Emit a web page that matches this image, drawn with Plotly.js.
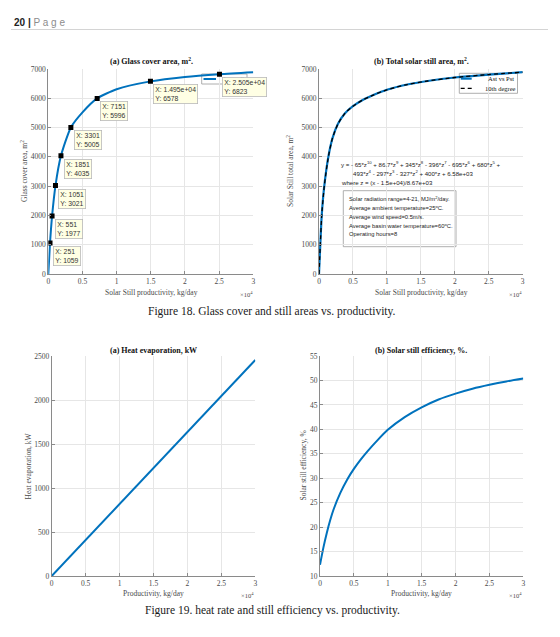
<!DOCTYPE html>
<html>
<head>
<meta charset="utf-8">
<script src="https://cdn.plot.ly/plotly-3.0.1.min.js"></script>
<style>
  html, body { margin: 0; padding: 0; background: #fff; }
  #fig { width: 560px; height: 637px; }
</style>
</head>
<body>
<div id="fig"></div>
<script>
// ---- data (productivity in kg/day) ----
// Glass cover area, m2
const glassX = [0, 251, 551, 1051, 1851, 3301, 5000, 7151, 10000, 14950, 20000, 25050, 30000];
const glassY = [0, 1059, 1977, 3021, 4035, 5005, 5520, 5996, 6310, 6578, 6730, 6823, 6890];
// marked data tips on the glass cover curve
const tipX = [251, 551, 1051, 1851, 3301, 7151, 14950, 25050];
const tipY = [1059, 1977, 3021, 4035, 5005, 5996, 6578, 6823];
// Total solar still area, m2
const stillX = [0, 100, 200, 400, 800, 1400, 2000, 2800, 3800, 5000, 6500, 8000, 10000, 13000, 16000, 20000, 25000, 30000];
const stillY = [0, 540, 1040, 2000, 3050, 4030, 4650, 5130, 5480, 5730, 5950, 6110, 6290, 6470, 6590, 6710, 6810, 6890];
// Heat evaporation, kW
const heatX = [0, 5000, 10000, 15000, 20000, 25000, 30000];
const heatY = [0, 410, 815, 1225, 1640, 2045, 2454];
// Solar still efficiency, %
const effX = [0, 500, 1000, 1500, 2000, 3000, 4000, 5000, 6000, 7000, 8500, 10000, 12500, 15000, 17500, 20000, 22500, 25000, 27500, 30000];
const effY = [12.3, 15.8, 18.8, 21.4, 23.6, 27.0, 29.7, 31.9, 33.8, 35.5, 37.8, 39.9, 42.5, 44.5, 46.1, 47.3, 48.3, 49.1, 49.8, 50.4];
// shared x tick labels (x 10^4)
const prodTickVals = [0, 5000, 10000, 15000, 20000, 25000, 30000];
const prodTickText = ['0', '0.5', '1', '1.5', '2', '2.5', '3'];
// fitted polynomial and operating conditions
const fitLines = [
  'y = - 65*z<sup>10</sup> + 86.7*z<sup>9</sup> + 345*z<sup>8</sup> - 396*z<sup>7</sup> - 695*z<sup>6</sup> + 680*z<sup>5</sup> +',
  '493*z<sup>4</sup> - 297*z<sup>3</sup> - 327*z<sup>2</sup> + 400*z + 6.58e+03',
  'where z = (x - 1.5e+04)/8.67e+03'
];
const conditionLines = [
  'Solar radiation range=4-21, MJ/m<sup>2</sup>/day.',
  'Average ambient temperature=25<sup>o</sup>C.',
  'Average wind speed=0.5m/s.',
  'Average basin water temperature=60<sup>o</sup>C.',
  'Operating hours=8'
];

const W = 560, H = 637;
const px = v => v / W;
const py = v => 1 - v / H;

const BLUE = '#0072BD';
const SERIF = 'Liberation Serif, Times New Roman, serif';
const SANS = 'Liberation Sans, Arial, sans-serif';
const GRID = '#e6e6e6';
const AXIS = '#8a8a8a';
const LABEL = '#4a4a4a';

function xAxis(d0, d1, anchor) {
  return {
    domain: [px(d0), px(d1)], anchor: anchor, range: [0, 30000],
    tickmode: 'array', tickvals: prodTickVals, ticktext: prodTickText,
    showgrid: true, gridcolor: GRID, gridwidth: 1, zeroline: false,
    showline: true, linecolor: AXIS, linewidth: 1,
    ticks: 'inside', ticklen: 3, tickcolor: AXIS, tickwidth: 1,
    tickfont: { family: SERIF, size: 7.5, color: LABEL }, fixedrange: true
  };
}
function yAxis(t0, t1, anchor, range, dtick) {
  return {
    domain: [py(t1), py(t0)], anchor: anchor, range: range,
    tickmode: 'linear', tick0: range[0], dtick: dtick,
    showgrid: true, gridcolor: GRID, gridwidth: 1, zeroline: false,
    showline: true, linecolor: AXIS, linewidth: 1,
    ticks: 'inside', ticklen: 3, tickcolor: AXIS, tickwidth: 1,
    tickfont: { family: SERIF, size: 7.5, color: LABEL }, fixedrange: true
  };
}

const curve = { shape: 'spline', smoothing: 0.6 };
const traces = [
  { x: glassX, y: glassY, xaxis: 'x', yaxis: 'y', mode: 'lines',
    line: Object.assign({ color: BLUE, width: 2 }, curve), name: 'Ag vs Pst' },
  { x: tipX, y: tipY, xaxis: 'x', yaxis: 'y', mode: 'markers',
    marker: { symbol: 'square', size: 5, color: '#000' } },
  { x: stillX, y: stillY, xaxis: 'x2', yaxis: 'y2', mode: 'lines',
    line: Object.assign({ color: BLUE, width: 2.2 }, curve), name: 'Ast vs Pst' },
  { x: stillX, y: stillY, xaxis: 'x2', yaxis: 'y2', mode: 'lines',
    line: Object.assign({ color: '#000', width: 1.3, dash: '4px,3px' }, curve), name: '10th degree' },
  { x: heatX, y: heatY, xaxis: 'x3', yaxis: 'y3', mode: 'lines',
    line: { color: BLUE, width: 2 } },
  { x: effX, y: effY, xaxis: 'x4', yaxis: 'y4', mode: 'lines',
    line: Object.assign({ color: BLUE, width: 2 }, curve) }
];

function fmtX(v) {
  if (v < 10000) return String(v);
  const e = Math.floor(Math.log10(v));
  const m = (v / Math.pow(10, e)).toFixed(3);
  return m + 'e+' + String(e).padStart(2, '0');
}

const ann = [];
function txt(x, y, text, opts) {
  ann.push(Object.assign({
    x: px(x), y: py(y), xref: 'paper', yref: 'paper', text: text, showarrow: false,
    xanchor: 'center', yanchor: 'middle',
    font: { family: SERIF, size: 7.5, color: LABEL }
  }, opts || {}));
}

// page header
txt(12, 22, '<b>20 |</b> <span style="color:#8c8c8c">P a g e</span>',
  { xanchor: 'left', font: { family: SANS, size: 10, color: '#222' } });

// subplot titles
const titleFont = { family: SERIF, size: 8, color: '#111' };
txt(151, 61, '<b>(a) Glass cover area, m<sup>2</sup>.</b>', { font: titleFont });
txt(421, 61, '<b>(b) Total solar still area, m<sup>2</sup>.</b>', { font: titleFont });
txt(153.5, 350.5, '<b>(a) Heat evaporation, kW</b>', { font: titleFont });
txt(421, 350.5, '<b>(b) Solar still efficiency, %.</b>', { font: titleFont });

// axis titles
txt(151, 292.5, 'Solar Still productivity, kg/day');
txt(421, 292.5, 'Solar Still productivity, kg/day');
txt(153.5, 593.5, 'Productivity, kg/day');
txt(421, 593.5, 'Productivity, kg/day');
txt(24.5, 171.5, 'Glass cover area, m<sup>2</sup>', { textangle: -90 });
txt(290.5, 171.5, 'Solar Still total area, m<sup>2</sup>', { textangle: -90 });
txt(27.5, 466, 'Heat evaporation, kW', { textangle: -90 });
txt(302.5, 466, 'Solar still efficiency, %', { textangle: -90 });

// x 10^4 exponent labels
const expOpts = { xanchor: 'right', font: { family: SERIF, size: 6.5, color: LABEL } };
txt(255, 293.5, '\u00d710<sup>4</sup>', expOpts);
txt(524, 293.5, '\u00d710<sup>4</sup>', expOpts);
txt(256, 595, '\u00d710<sup>4</sup>', expOpts);
txt(524, 595, '\u00d710<sup>4</sup>', expOpts);

// figure captions
const capFont = { family: SERIF, size: 11.5, color: '#1a1a1a' };
txt(272, 311, 'Figure 18. Glass cover and still areas vs. productivity.', { font: capFont });
txt(272, 610, 'Figure 19. heat rate and still efficiency vs. productivity.', { font: capFont });

// legend of the glass cover plot
txt(220, 79, 'Ag vs Pst', { xanchor: 'left', font: { family: SERIF, size: 7, color: '#111' } });
// legend of the total still area plot
txt(485.5, 78.7, 'Ast vs Pst', { xanchor: 'left', font: { family: SERIF, size: 6.5, color: '#111' } });
txt(483, 88.3, '10th degree', { xanchor: 'left', font: { family: SERIF, size: 6.5, color: '#111' } });

// fitted polynomial text
const eqFont = { family: SANS, size: 6.1, color: '#222' };
const fitPos = [[339.3, 164], [351, 173.3], [339.3, 182.7]];
fitLines.forEach((t, i) => txt(fitPos[i][0], fitPos[i][1], t, { xanchor: 'left', font: eqFont }));

// operating conditions text (framed below)
const condY = [199, 208, 216.8, 225.6, 234.4];
conditionLines.forEach((t, i) => txt(346.7, condY[i], t,
  { xanchor: 'left', font: { family: SANS, size: 5.8, color: '#222' } }));

// data tips
for (let i = 0; i < tipX.length; i++) {
  ann.push({
    x: tipX[i], y: tipY[i], xref: 'x', yref: 'y',
    text: 'X: ' + fmtX(tipX[i]) + '<br>Y: ' + tipY[i],
    showarrow: false, xanchor: 'left', yanchor: 'top', xshift: 3, yshift: -3, align: 'left',
    bgcolor: '#ffffe4', bordercolor: '#b9b9b9', borderwidth: 0.8, borderpad: 1.5,
    font: { family: SANS, size: 6.8, color: '#333' }
  });
}

const shapes = [
  // header rule
  { type: 'line', xref: 'paper', yref: 'paper', x0: px(11), x1: px(548), y0: py(29.5), y1: py(29.5),
    line: { color: '#d4d4d4', width: 1 } },
  // legend frames
  { type: 'rect', layer: 'between', xref: 'paper', yref: 'paper', x0: px(201.7), x1: px(247), y0: py(84), y1: py(74),
    fillcolor: '#fff', line: { color: '#9a9a9a', width: 0.8 } },
  { type: 'line', layer: 'between', xref: 'paper', yref: 'paper', x0: px(203.5), x1: px(216), y0: py(79), y1: py(79),
    line: { color: BLUE, width: 2 } },
  { type: 'rect', layer: 'between', xref: 'paper', yref: 'paper', x0: px(459.3), x1: px(517.5), y0: py(93.3), y1: py(73.3),
    fillcolor: '#fff', line: { color: '#9a9a9a', width: 0.8 } },
  { type: 'line', layer: 'between', xref: 'paper', yref: 'paper', x0: px(460.7), x1: px(471.7), y0: py(78.7), y1: py(78.7),
    line: { color: BLUE, width: 2 } },
  { type: 'line', layer: 'between', xref: 'paper', yref: 'paper', x0: px(460.7), x1: px(471.7), y0: py(88.3), y1: py(88.3),
    line: { color: '#000', width: 1.3, dash: '4px,3px' } },
  // operating conditions frame
  { type: 'rect', layer: 'between', xref: 'paper', yref: 'paper', x0: px(343.3), x1: px(456), y0: py(246.7), y1: py(190.7),
    fillcolor: '#fff', line: { color: '#9a9a9a', width: 0.8 } }
];

const layout = {
  width: W, height: H, margin: { l: 0, r: 0, t: 0, b: 0 },
  paper_bgcolor: '#fff', plot_bgcolor: '#fff', showlegend: false,
  xaxis: xAxis(48.3, 253.3, 'y'),
  yaxis: yAxis(69, 274, 'x', [0, 7000], 1000),
  xaxis2: xAxis(319, 522.7, 'y2'),
  yaxis2: yAxis(69, 274, 'x2', [0, 7000], 1000),
  xaxis3: xAxis(51.7, 255.3, 'y3'),
  yaxis3: yAxis(356, 576, 'x3', [0, 2500], 500),
  xaxis4: xAxis(320, 523.3, 'y4'),
  yaxis4: yAxis(356, 576, 'x4', [10, 55], 5),
  annotations: ann,
  shapes: shapes
};

Plotly.newPlot('fig', traces, layout, { displayModeBar: false, staticPlot: true });
</script>
</body>
</html>
